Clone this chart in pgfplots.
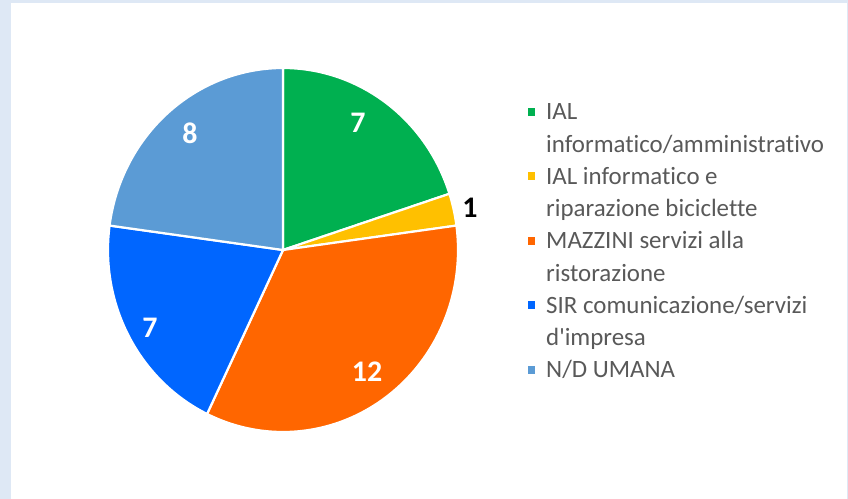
\documentclass[border=0pt]{standalone}
\usepackage{pgfplots}
\pgfplotsset{compat=1.18}
\usepackage{fontspec}
\setmainfont{Carlito}[Ligatures={NoCommon}]
\definecolor{cGreen}{HTML}{00B050}
\definecolor{cYellow}{HTML}{FFC000}
\definecolor{cOrange}{HTML}{FF6600}
\definecolor{cBlue}{HTML}{0066FF}
\definecolor{cLight}{HTML}{5B9BD5}
\definecolor{bgblue}{HTML}{DEE8F5}
\definecolor{legtext}{HTML}{595959}
% slice values (clockwise from 12 o'clock)
\def\vA{7}\def\vB{1}\def\vC{12}\def\vD{7}\def\vE{8}
\pgfmathsetmacro\tot{\vA+\vB+\vC+\vD+\vE}
\pgfmathsetmacro\aA{90}
\pgfmathsetmacro\aB{\aA-360*\vA/\tot}
\pgfmathsetmacro\aC{\aB-360*\vB/\tot}
\pgfmathsetmacro\aD{\aC-360*\vC/\tot}
\pgfmathsetmacro\aE{\aD-360*\vD/\tot}
\pgfmathsetmacro\aF{\aE-360*\vE/\tot}
\begin{document}
\begin{tikzpicture}
\fill[bgblue] (0,0) rectangle (848bp,499bp);
\fill[white] (11bp,0) rectangle (847bp,496bp);
\begin{axis}[
  width=848bp, height=499bp, scale only axis,
  xmin=0, xmax=848, ymin=0, ymax=499,
  hide axis, clip=false,
]
\addplot[draw=white, line width=2.2bp, fill=cGreen, domain=\aB:\aA, samples=80] ({283+175*cos(x)},{249+182*sin(x)}) -- (283,249) -- cycle;
\addplot[draw=white, line width=2.2bp, fill=cYellow, domain=\aC:\aB, samples=20] ({283+175*cos(x)},{249+182*sin(x)}) -- (283,249) -- cycle;
\addplot[draw=white, line width=2.2bp, fill=cOrange, domain=\aD:\aC, samples=120] ({283+175*cos(x)},{249+182*sin(x)}) -- (283,249) -- cycle;
\addplot[draw=white, line width=2.2bp, fill=cBlue, domain=\aE:\aD, samples=80] ({283+175*cos(x)},{249+182*sin(x)}) -- (283,249) -- cycle;
\addplot[draw=white, line width=2.2bp, fill=cLight, domain=\aF:\aE, samples=80] ({283+175*cos(x)},{249+182*sin(x)}) -- (283,249) -- cycle;
% data labels
\tikzset{dl/.style={font=\fontsize{30}{34}\selectfont\bfseries, inner sep=0pt}}
\node[dl, text=white] at (axis cs:358,376) {7};
\node[dl, text=black] at (axis cs:470,291) {1};
\node[dl, text=white] at (axis cs:367,127) {12};
\node[dl, text=white] at (axis cs:150,171) {7};
\node[dl, text=white] at (axis cs:190,366) {8};
% legend
\fill[cGreen]  (axis cs:527.5,383)   rectangle (axis cs:535,391);
\fill[cYellow] (axis cs:527.5,318.5) rectangle (axis cs:535,326.5);
\fill[cOrange] (axis cs:527.5,254)   rectangle (axis cs:535,262);
\fill[cBlue]   (axis cs:527.5,189.5) rectangle (axis cs:535,197.5);
\fill[cLight]  (axis cs:527.5,125)   rectangle (axis cs:535,133);
\tikzset{lg/.style={anchor=base west, inner sep=0pt, text=legtext, font=\fontsize{25}{29}\selectfont}}
\node[lg] at (axis cs:546,379) {IAL};
\node[lg] at (axis cs:546,346.75) {informatico/amministrativo};
\node[lg] at (axis cs:546,314.5) {IAL informatico e};
\node[lg] at (axis cs:546,282.25) {riparazione biciclette};
\node[lg] at (axis cs:546,250) {MAZZINI servizi alla};
\node[lg] at (axis cs:546,217.75) {ristorazione};
\node[lg] at (axis cs:546,185.5) {SIR comunicazione/servizi};
\node[lg] at (axis cs:546,153.25) {d\textquotesingle impresa};
\node[lg] at (axis cs:546,121) {N/D UMANA};
\end{axis}
\end{tikzpicture}
\end{document}
